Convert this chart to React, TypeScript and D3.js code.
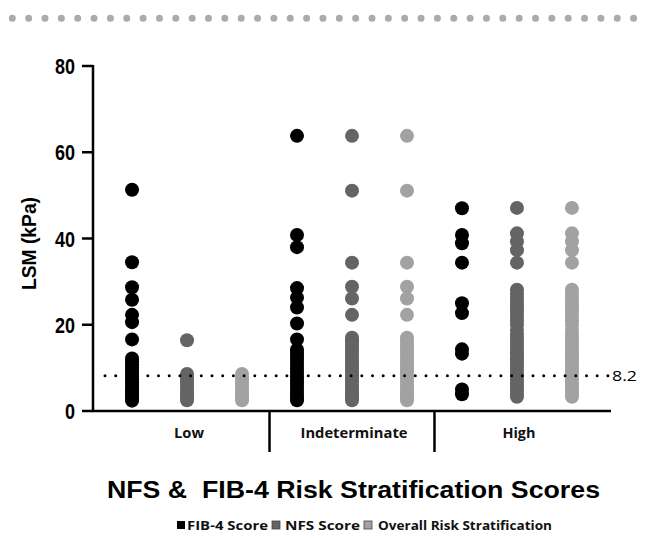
import { useEffect, useRef } from "react";
import * as d3 from "d3";

const groups = ["Low", "Indeterminate", "High"];
const seriesNames = ["FIB-4 Score", "NFS Score", "Overall Risk Stratification"];
const seriesColors = ["#000000", "#646464", "#a2a2a2"];
const yTicks = [0, 20, 40, 60, 80];
const cutoff = 8.2;

// LSM (kPa) values, one array per column
const lowFib4 = [51.3, 34.5, 28.7, 25.8, 22.3, 20.6, 16.6, 12.2, 11.5, 10.8, 10.1, 9.4, 8.7, 8.0, 7.3, 6.6, 5.9, 5.2, 4.6, 4.0, 3.4, 2.9, 2.4];
const lowNfs = [16.4, 8.6, 7.9, 7.2, 6.5, 5.8, 5.1, 4.4, 3.7, 3.1, 2.5];
const lowOverall = [8.6, 7.9, 7.2, 6.5, 5.8, 5.1, 4.4, 3.7, 3.1, 2.5];

const indFib4 = [63.8, 40.8, 38.0, 28.5, 26.3, 24.0, 20.3, 16.6, 14.2, 13.5, 12.8, 12.1, 11.4, 10.7, 10.0, 9.3, 8.6, 7.9, 7.2, 6.5, 5.8, 5.1, 4.4, 3.7, 3.1, 2.5];
const indNfs = [63.8, 51.1, 34.4, 28.8, 26.1, 22.3, 17.0, 16.2, 15.4, 14.6, 13.8, 13.0, 12.2, 11.4, 10.6, 9.8, 9.0, 8.2, 7.4, 6.6, 5.8, 5.0, 4.3, 3.6, 3.0, 2.5];
const indOverall = [63.8, 51.1, 34.4, 28.8, 26.1, 22.3, 17.0, 16.2, 15.4, 14.6, 13.8, 13.0, 12.2, 11.4, 10.6, 9.8, 9.0, 8.2, 7.4, 6.6, 5.8, 5.0, 4.3, 3.6, 3.0, 2.5];

const highFib4 = [47.0, 40.8, 38.9, 34.4, 25.0, 22.7, 14.3, 13.3, 5.0, 3.9];
const highNfs = [47.1, 41.2, 39.3, 37.3, 34.4, 28.1, 27.2, 26.3, 25.4, 24.5, 23.6, 22.7, 21.8, 20.9, 20.0, 18.8, 17.6, 16.8, 16.0, 15.2, 14.4, 13.6, 12.8, 12.0, 11.2, 10.4, 9.6, 8.8, 8.0, 7.2, 6.4, 5.6, 4.8, 4.0, 3.3];
const highOverall = [47.1, 41.2, 39.3, 37.3, 34.4, 28.1, 27.2, 26.3, 25.4, 24.5, 23.6, 22.7, 21.8, 20.9, 20.0, 18.8, 17.6, 16.8, 16.0, 15.2, 14.4, 13.6, 12.8, 12.0, 11.2, 10.4, 9.6, 8.8, 8.0, 7.2, 6.4, 5.6, 4.8, 4.0, 3.3];

const columnValues = [
  [lowFib4, lowNfs, lowOverall],
  [indFib4, indNfs, indOverall],
  [highFib4, highNfs, highOverall],
];

type Dot = { key: string; series: number; value: number };

const headFont = "Liberation Sans, Arial, sans-serif";
const bodyFont = "Open Sans, sans-serif";

export default function App() {
  const ref = useRef<SVGSVGElement | null>(null);

  useEffect(() => {
    const node = ref.current;
    if (!node) return;
    const svg = d3.select(node);
    svg.selectAll("*").remove();

    const axisLeft = 93;
    const axisRight = 611;
    const axisTop = 66;
    const axisBottom = 411;

    const keys = groups.flatMap((g) => seriesNames.map((_s, i) => `${g}|${i}`));
    const x = d3.scalePoint<string>().domain(keys).range([axisLeft, axisRight]).padding(0.71);
    const y = d3.scaleLinear().domain([0, 80]).range([axisBottom, axisTop]);

    const dots: Dot[] = groups.flatMap((g, gi) =>
      columnValues[gi].flatMap((vals, si) => vals.map((value) => ({ key: `${g}|${si}`, series: si, value })))
    );

    // page decoration: row of grey dots across the top
    svg
      .append("line")
      .attr("x1", 12.3)
      .attr("x2", 636)
      .attr("y1", 18.3)
      .attr("y2", 18.3)
      .attr("stroke", "#a9abad")
      .attr("stroke-width", 7)
      .attr("stroke-linecap", "round")
      .attr("stroke-dasharray", "0 16.35");

    // y axis
    svg
      .append("line")
      .attr("x1", axisLeft)
      .attr("x2", axisLeft)
      .attr("y1", axisTop - 1)
      .attr("y2", axisBottom)
      .attr("stroke", "#000")
      .attr("stroke-width", 2.5);

    const tick = svg.append("g").selectAll("g").data(yTicks).join("g");
    tick
      .append("line")
      .attr("x1", axisLeft - 11)
      .attr("x2", axisLeft)
      .attr("y1", (d) => y(d))
      .attr("y2", (d) => y(d))
      .attr("stroke", "#000")
      .attr("stroke-width", 2.5);
    tick
      .append("text")
      .attr("x", axisLeft - 18)
      .attr("y", (d) => y(d) + 8)
      .attr("text-anchor", "end")
      .attr("font-family", headFont)
      .attr("font-weight", "bold")
      .attr("font-size", 22.5)
      .attr("textLength", (d) => String(d).length * 10)
      .attr("lengthAdjust", "spacingAndGlyphs")
      .attr("fill", "#000")
      .text((d) => String(d));

    svg
      .append("text")
      .attr("transform", `translate(36,243.5) rotate(-90)`)
      .attr("text-anchor", "middle")
      .attr("font-family", headFont)
      .attr("font-weight", "bold")
      .attr("font-size", 21)
      .attr("textLength", 93)
      .attr("lengthAdjust", "spacingAndGlyphs")
      .attr("fill", "#000")
      .text("LSM (kPa)");

    // x axis with group dividers
    svg
      .append("line")
      .attr("x1", axisLeft - 1)
      .attr("x2", axisRight)
      .attr("y1", axisBottom)
      .attr("y2", axisBottom)
      .attr("stroke", "#000")
      .attr("stroke-width", 2.5);

    const step = x.step();
    const dividers = groups.slice(1).map((g) => (x(`${g}|0`) ?? 0) - step / 2);
    svg
      .append("g")
      .selectAll("line")
      .data(dividers)
      .join("line")
      .attr("x1", (d) => d)
      .attr("x2", (d) => d)
      .attr("y1", axisBottom)
      .attr("y2", 452)
      .attr("stroke", "#000")
      .attr("stroke-width", 2.5);

    const groupLabelWidth = [30, 107, 33];
    svg
      .append("g")
      .selectAll("text")
      .data(groups)
      .join("text")
      .attr("x", (g) => (x(`${g}|1`) ?? 0) + 2)
      .attr("y", 438)
      .attr("text-anchor", "middle")
      .attr("font-family", bodyFont)
      .attr("font-weight", "bold")
      .attr("font-size", 14)
      .attr("textLength", (_g, i) => groupLabelWidth[i])
      .attr("lengthAdjust", "spacingAndGlyphs")
      .attr("fill", "#111")
      .text((g) => g);

    // dots
    svg
      .append("g")
      .selectAll("circle")
      .data(dots)
      .join("circle")
      .attr("cx", (d) => x(d.key) ?? 0)
      .attr("cy", (d) => y(d.value))
      .attr("r", 7)
      .attr("fill", (d) => seriesColors[d.series]);

    // cutoff line
    svg
      .append("line")
      .attr("x1", 105)
      .attr("x2", 608)
      .attr("y1", y(cutoff))
      .attr("y2", y(cutoff))
      .attr("stroke", "#000")
      .attr("stroke-width", 3)
      .attr("stroke-linecap", "round")
      .attr("stroke-dasharray", "0 10.7");

    svg
      .append("text")
      .attr("x", 612)
      .attr("y", y(cutoff) + 5.5)
      .attr("font-family", bodyFont)
      .attr("font-size", 15)
      .attr("textLength", 25)
      .attr("lengthAdjust", "spacingAndGlyphs")
      .attr("fill", "#000")
      .text(String(cutoff));

    // title
    svg
      .append("text")
      .attr("x", 107)
      .attr("y", 498)
      .attr("font-family", headFont)
      .attr("font-weight", "bold")
      .attr("font-size", 23)
      .attr("textLength", 493)
      .attr("lengthAdjust", "spacingAndGlyphs")
      .attr("fill", "#000")
      .style("white-space", "pre")
      .text("NFS &  FIB-4 Risk Stratification Scores");

    // legend
    const legendBox = [177, 272, 364];
    const legendText = [187, 285, 378];
    const legendWidth = [81, 75, 174];
    const legend = svg.append("g").selectAll("g").data(seriesNames).join("g");
    legend
      .append("rect")
      .attr("x", (_d, i) => legendBox[i])
      .attr("y", 521)
      .attr("width", 8)
      .attr("height", 8)
      .attr("fill", (_d, i) => seriesColors[i])
      .attr("stroke", (_d, i) => (i === 0 ? "none" : "#444"))
      .attr("stroke-width", 0.8);
    legend
      .append("text")
      .attr("x", (_d, i) => legendText[i])
      .attr("y", 529.5)
      .attr("font-family", bodyFont)
      .attr("font-weight", "bold")
      .attr("font-size", 12.5)
      .attr("textLength", (_d, i) => legendWidth[i])
      .attr("lengthAdjust", "spacingAndGlyphs")
      .attr("fill", "#111")
      .text((d) => d);
  }, []);

  return (
    <svg
      ref={ref}
      width={645}
      height={538}
      style={{ position: "absolute", left: 0, top: 0, background: "#fff" }}
    />
  );
}
